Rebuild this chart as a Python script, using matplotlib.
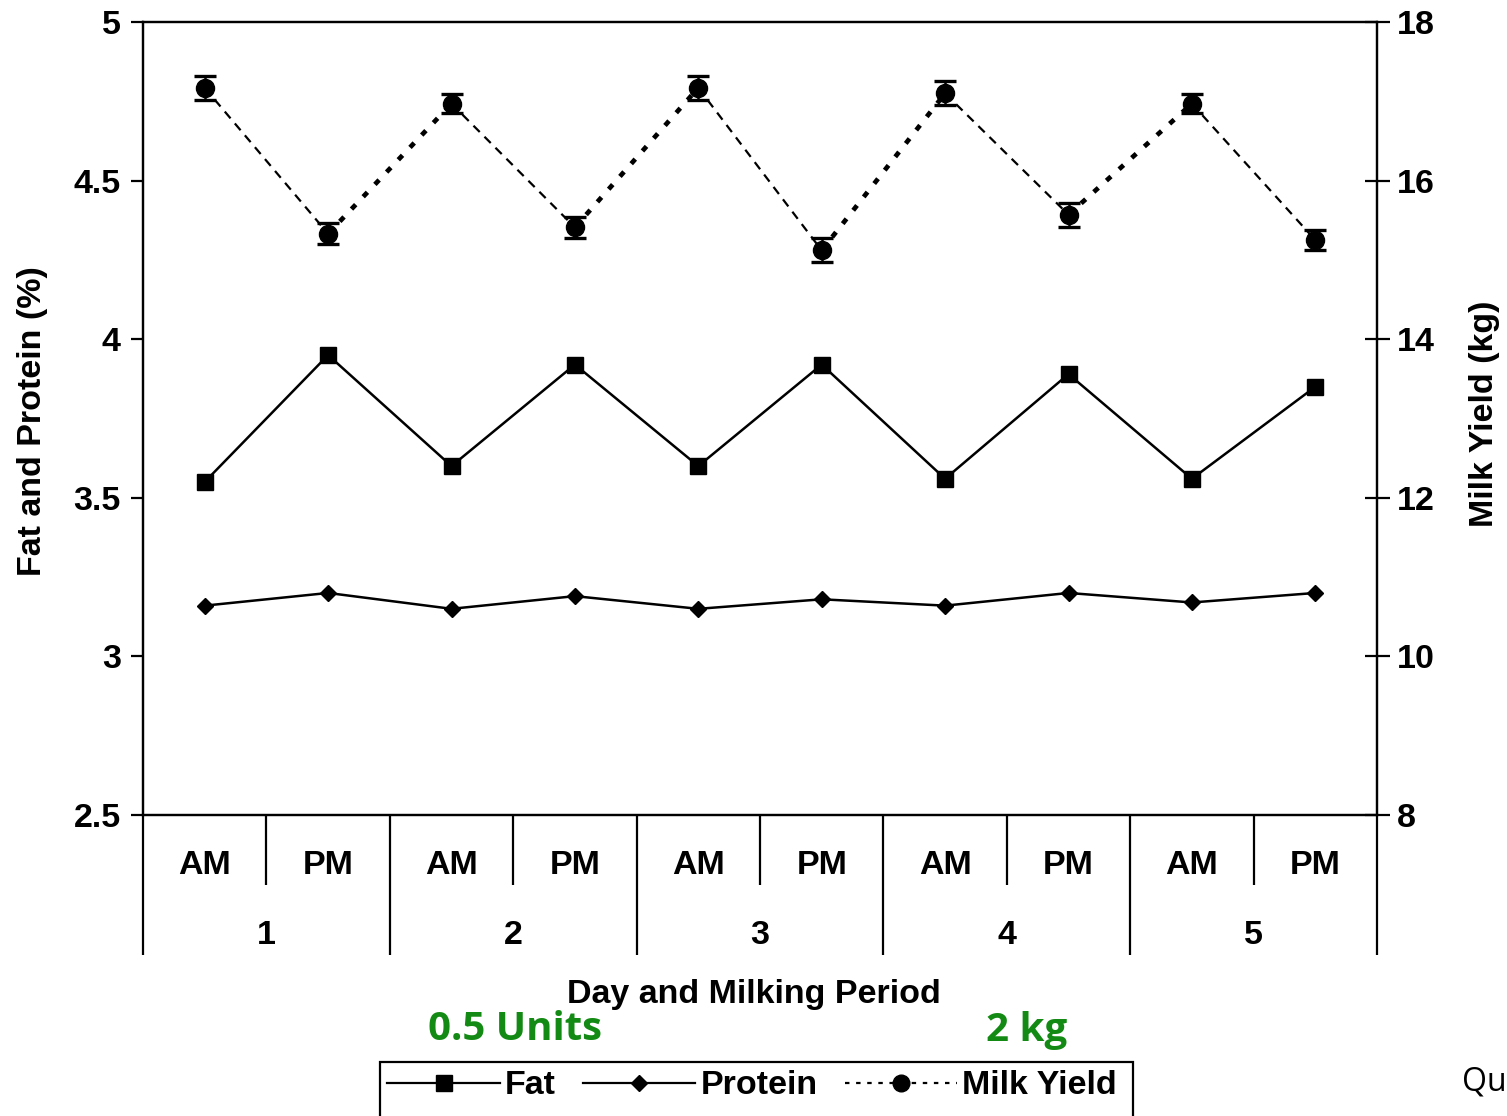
"""Fat, protein and milk yield across five days of AM/PM milkings."""

import matplotlib.pyplot as plt
from matplotlib.lines import Line2D
from matplotlib.patches import Rectangle
import numpy as np


PERIODS = ["AM", "PM"] * 5
DAYS = ["1", "2", "3", "4", "5"]

FAT = [3.55, 3.95, 3.60, 3.92, 3.60, 3.92, 3.56, 3.89, 3.56, 3.85]
PROTEIN = [3.16, 3.20, 3.15, 3.19, 3.15, 3.18, 3.16, 3.20, 3.17, 3.20]
MILK_YIELD = [17.17, 15.33, 16.97, 15.41, 17.17, 15.12, 17.10, 15.57, 16.97, 15.25]
MILK_YIELD_SE = [0.15, 0.13, 0.12, 0.13, 0.15, 0.15, 0.15, 0.15, 0.12, 0.13]

LEFT_TICKS = [2.5, 3, 3.5, 4, 4.5, 5]
LEFT_TICK_LABELS = ["2.5", "3", "3.5", "4", "4.5", "5"]
RIGHT_TICKS = [8, 10, 12, 14, 16, 18]

FIG_W, FIG_H = 1507, 1116
FONT = "Liberation Sans"
GREEN = "#138a13"


def px_x(value):
    return value / FIG_W


def px_y(value):
    return 1 - value / FIG_H


def main() -> None:
    plt.rcParams.update(
        {
            "font.family": FONT,
            "font.weight": "bold",
            "axes.linewidth": 1.6,
        }
    )

    figure = plt.figure(figsize=(FIG_W / 100, FIG_H / 100), dpi=100)
    axis = figure.add_axes(
        [px_x(143), px_y(815), px_x(1377 - 143), (815 - 22) / FIG_H]
    )
    right_axis = axis.twinx()

    x_positions = np.arange(len(PERIODS))

    axis.plot(
        x_positions, FAT,
        color="black", linewidth=1.8,
        marker="s", markersize=12,
    )
    axis.plot(
        x_positions, PROTEIN,
        color="black", linewidth=1.8,
        marker="D", markersize=8.5,
    )

    # milk yield: thin dashes going AM -> PM, heavy dots going PM -> AM
    for start in range(len(MILK_YIELD) - 1):
        pair = slice(start, start + 2)
        if start % 2 == 0:
            style = dict(linewidth=1.6, linestyle=(0, (4, 3)))
        else:
            style = dict(linewidth=3.4, linestyle=(0, (1.3, 2.3)))
        right_axis.plot(
            x_positions[pair], MILK_YIELD[pair],
            color="black", **style,
        )

    right_axis.errorbar(
        x_positions, MILK_YIELD, yerr=MILK_YIELD_SE,
        fmt="o", color="black", markersize=13,
        elinewidth=1.8, capsize=8, capthick=2.4,
    )

    axis.set_xlim(-0.5, len(PERIODS) - 0.5)
    axis.set_ylim(2.5, 5)
    right_axis.set_ylim(8, 18)

    axis.set_yticks(LEFT_TICKS, LEFT_TICK_LABELS)
    right_axis.set_yticks(RIGHT_TICKS)
    axis.set_xticks([])

    axis.tick_params(
        axis="y", direction="out", length=9, width=1.6,
        pad=7, labelsize=24.5,
    )
    right_axis.tick_params(
        axis="y", direction="inout", length=18, width=1.6,
        pad=5, labelsize=24.5,
    )
    for label in axis.get_yticklabels() + right_axis.get_yticklabels():
        label.set_fontweight("bold")

    # two-level category axis: milking period above, day below
    x_transform = axis.get_xaxis_transform()
    axis_height = 815 - 22
    period_y = -(865 - 815) / axis_height
    day_y = -(935 - 815) / axis_height
    period_line_end = -(885 - 815) / axis_height
    day_line_end = -(955 - 815) / axis_height

    for position, period in zip(x_positions, PERIODS):
        axis.text(
            position, period_y, period,
            transform=x_transform, ha="center", va="center",
            fontsize=24.5, fontweight="bold",
        )

    for index, day in enumerate(DAYS):
        axis.text(
            2 * index + 0.5, day_y, day,
            transform=x_transform, ha="center", va="center",
            fontsize=24.5, fontweight="bold",
        )

    axis.vlines(
        x_positions[::2] + 0.5, period_line_end, 0,
        transform=x_transform, colors="black", linewidth=1.6,
        clip_on=False,
    )
    axis.vlines(
        np.arange(-0.5, len(PERIODS), 2), day_line_end, 0,
        transform=x_transform, colors="black", linewidth=1.6,
        clip_on=False,
    )

    figure.text(
        px_x(754), px_y(994), "Day and Milking Period",
        ha="center", va="center", fontsize=24.5, fontweight="bold",
    )
    figure.text(
        px_x(33), px_y(421), "Fat and Protein (%)",
        ha="center", va="center", rotation=90,
        fontsize=24.5, fontweight="bold",
    )
    figure.text(
        px_x(1485), px_y(414), "Milk Yield (kg)",
        ha="center", va="center", rotation=90,
        fontsize=24.5, fontweight="bold",
    )

    figure.text(
        px_x(515), px_y(1030), "0.5 Units",
        ha="center", va="center", fontsize=29,
        fontweight="bold", family="Open Sans", color=GREEN,
    )
    figure.text(
        px_x(1027), px_y(1030), "2 kg",
        ha="center", va="center", fontsize=29,
        fontweight="bold", family="Open Sans", color=GREEN,
    )
    figure.text(
        px_x(1462), px_y(1082), "Qu",
        ha="left", va="center", fontsize=23,
        fontweight="normal", family="Open Sans", color="black",
    )

    figure.patches.append(
        Rectangle(
            (px_x(380), -0.02), px_x(1133 - 380), px_y(1062) + 0.02,
            transform=figure.transFigure, fill=False,
            edgecolor="black", linewidth=1.6,
        )
    )

    handles = [
        Line2D([], [], color="black", linewidth=1.6,
               marker="s", markersize=12),
        Line2D([], [], color="black", linewidth=1.6,
               marker="D", markersize=8.5),
        Line2D([], [], color="black", linewidth=1.6,
               linestyle=(0, (2, 3)), marker="o", markersize=12),
    ]
    figure.legend(
        handles, ["Fat", "Protein", "Milk Yield"],
        loc="center", bbox_to_anchor=(px_x(752), px_y(1086)),
        ncol=3, frameon=False, handlelength=3.3,
        handletextpad=0.15, columnspacing=0.8,
        prop={"family": FONT, "weight": "bold", "size": 24.5},
    )

    figure.savefig("out.png", dpi=100)
    plt.close(figure)


if __name__ == "__main__":
    main()
